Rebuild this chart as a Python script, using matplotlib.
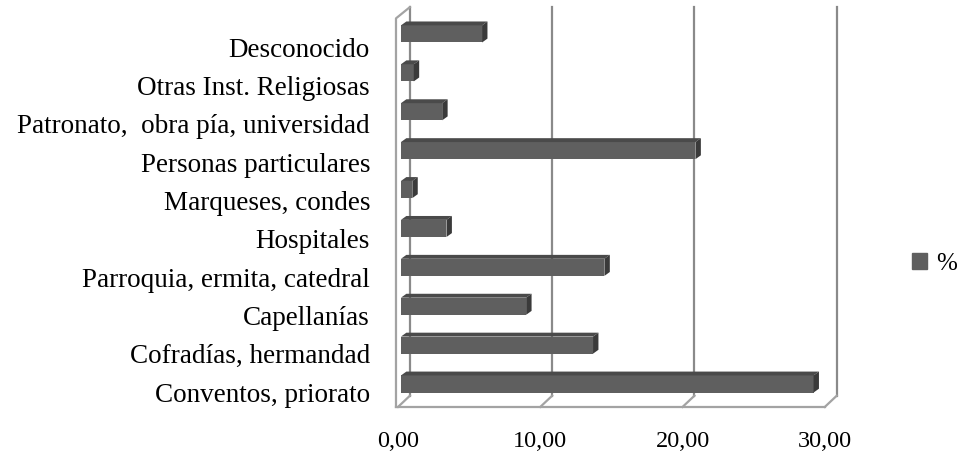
import matplotlib.pyplot as plt
from matplotlib.patches import Polygon, Patch

# data, bottom to top as drawn
categories = ["Conventos, priorato", "Cofradías, hermandad", "Capellanías",
              "Parroquia, ermita, catedral", "Hospitales", "Marqueses, condes",
              "Personas particulares", "Patronato,  obra pía, universidad",
              "Otras Inst. Religiosas", "Desconocido"]
values = [29.0, 13.5, 8.8, 14.3, 3.2, 0.8, 20.7, 2.9, 0.9, 5.7]
xticks = [0, 10, 20, 30]
xticklabels = ["0,00", "10,00", "20,00", "30,00"]
series_name = "%"

plt.rcParams['font.family'] = ['Liberation Serif', 'DejaVu Serif']

fig = plt.figure(figsize=(9.58, 4.53), dpi=100)
ax = fig.add_axes([0.408, 0.0707, 0.4678, 0.9317])
ax.set_xlim(-0.5, 31.0)
ax.set_ylim(-0.95, 9.9)
for s in ax.spines.values():
    s.set_visible(False)

# 3d box geometry (data units)
ddx, ddy = 0.84, 0.29        # depth offset of the back wall
floor_y = -0.59               # front floor edge
top_y = 9.69                  # top of back wall
left_x = -0.14                # front edge of left wall
grid_col = '#8a8a8a'
wall_col = '#a3a3a3'
lw = 1.6

for t in xticks:
    ax.plot([t + ddx, t + ddx], [floor_y + ddy, top_y], color=grid_col, lw=lw, zorder=1)
    ax.plot([t, t + ddx], [floor_y, floor_y + ddy], color=wall_col, lw=lw, zorder=1)
ax.plot([left_x, xticks[-1]], [floor_y, floor_y], color=wall_col, lw=lw, zorder=1)
ax.plot([left_x, left_x, ddx], [floor_y, top_y - ddy, top_y], color=wall_col, lw=lw, zorder=1)

# bars
x0 = 0.21
h = 0.44
bdx, bdy = 0.38, 0.1
ypos = list(range(len(categories)))
ax.barh(ypos, values, left=x0, height=h, color='#5f5f5f', zorder=3)
for y, v in zip(ypos, values):
    xe = x0 + v
    top = [(x0, y + h / 2), (xe, y + h / 2), (xe + bdx, y + h / 2 + bdy), (x0 + bdx, y + h / 2 + bdy)]
    side = [(xe, y - h / 2), (xe, y + h / 2), (xe + bdx, y + h / 2 + bdy), (xe + bdx, y - h / 2 + bdy)]
    ax.add_patch(Polygon(top, closed=True, color='#4a4a4a', zorder=3, lw=0))
    ax.add_patch(Polygon(side, closed=True, color='#3a3a3a', zorder=3, lw=0))

# labels
label_y = [-0.21 + 0.9856 * y for y in ypos]
ax.set_yticks(label_y)
ax.set_yticklabels(categories, fontsize=19.5)
ax.tick_params(axis='y', length=0, pad=15)
ax.set_xticks(xticks)
ax.set_xticklabels(xticklabels, fontsize=17.5)
ax.tick_params(axis='x', length=0, pad=7)

fig.legend(handles=[Patch(color='#5f5f5f', label=series_name)], loc='center left',
           bbox_to_anchor=(0.928, 1 - 264 / 453), frameon=False, fontsize=18,
           handlelength=0.6, handleheight=0.6, handletextpad=0.4)

fig.savefig('out.png', dpi=100)
